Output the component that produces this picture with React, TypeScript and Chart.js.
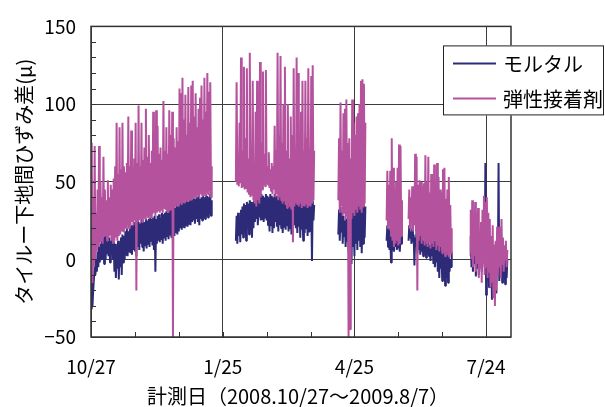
import React, { useEffect, useRef } from "react";
import { Chart, registerables } from "chart.js";

Chart.register(...registerables);

// ---- data ----
const seriesNames = ["モルタル", "弾性接着剤"];
const xTickDays = [0, 90, 180, 270];
const xTickLabels = ["10/27", "1/25", "4/25", "7/24"];
const yTickValues = [-50, 0, 50, 100, 150];
const yAxisTitle = "タイルー下地間ひずみ差(μ)";
const xAxisTitle = "計測日（2008.10/27～2009.8/7）";

// first day (days since 2008-10-27) of each measuring period
const segmentStartDays = [0, 99, 169, 202, 217, 259];

// daily lows / highs of each period
const mortarLow = [
  [-32, -30, -20, -10, -8, -5, -2, 0, 2, -3, 0, 4, 2, -2, 3, 0, -8, -12, -6, -13, -5, -10, -2, 0, 3, 2, 5, 4, 3, 6, 5, 2, 8, 6, 10, 8, 5, 9, 7, 10, 8, 12, 9, 6, -8, 10, 12, 11, 13, 10, 14, 12, 15, 13, 16, 14, 12, 15, 17, 16, 18, 20, 19, 21, 20, 22, 21, 23, 22, 24, 25, 23, 26, 24, 22, 26, 25, 27, 26, 28, 27, 29, 28],
  [12, 10, 15, 11, 16, 14, 18, 12, 20, 16, 22, 14, 20, 24, 26, 22, 27, 25, 26, 24, 27, 25, 22, 18, 22, 17, 20, 24, 21, 18, 22, 20, 17, 21, 19, 22, 18, 20, 16, 19, 22, 20, 17, 21, 14, 19, 12, 17, 20, 15, 18, 22, -1, 25],
  [16, 12, 18, 10, 15, 8, 12, 5, 10, -3, 8, 2, 10, 6, 12, 8, 4, 10, 14],
  [12, 8, 6, -2, 6, 5, 8, 6, 7, 5, 10],
  [12, 14, 10, 11, -4, 8, 4, 6, 3, 5, 2, 4, 1, 3, 2, -1, 2, -3, -5, -2, -8, -12, -6, -14, -10, -17, -12, -15, -8, -5],
  [2, -5, -8, -3, -11, -6, -10, -4, -8, 0, -5, -23, -10, -18, -12, -26, -20, -15, -22, -10, -14, -8, -15, -10, -16, -12],
];
const mortarHigh = [
  [-15, -20, -5, 0, 5, 8, 10, 12, 14, 15, 15, 16, 14, 12, 15, 12, 10, 8, 12, 10, 14, 16, 15, 18, 20, 18, 20, 22, 20, 24, 22, 25, 24, 23, 26, 25, 24, 26, 25, 26, 27, 26, 27, 28, 26, 28, 29, 27, 30, 29, 30, 31, 30, 32, 33, 32, 34, 33, 35, 34, 36, 37, 36, 38, 37, 38, 37, 39, 38, 40, 39, 38, 40, 41, 39, 40, 41, 40, 42, 41, 40, 42, 38],
  [28, 30, 27, 32, 34, 36, 35, 37, 36, 38, 37, 36, 38, 40, 39, 41, 40, 42, 41, 40, 42, 41, 40, 42, 41, 40, 42, 41, 39, 40, 42, 40, 41, 39, 40, 38, 40, 39, 41, 38, 40, 38, 39, 37, 38, 36, 38, 37, 36, 38, 37, 36, 38, 35],
  [32, 34, 30, 28, 25, 26, 30, 28, 32, 30, 33, 35, 34, 36, 35, 37, 36, 35, 34],
  [22, 20, 18, 16, 14, 15, 36, 16, 12, 14, 16],
  [22, 18, 20, 16, 14, 20, 18, 25, 16, 14, 12, 15, 10, 12, 9, 11, 8, 12, 10, 9, 12, 8, 6, 10, 5, 4, 8, 2, 0, 5],
  [15, 10, 8, 12, 22, 10, 5, 8, 20, 23, 62, 15, 10, 5, 8, 2, 6, 10, 10, 62, 8, 5, 10, 3, 6, 0],
];
const adhesiveLow = [
  [-10, -15, -5, 0, 5, 8, 10, 12, 10, 15, 15, 12, 14, 16, 12, 10, 12, 14, 12, 15, 16, 18, 18, 20, 20, 22, 20, 22, 24, 22, 25, -20, 24, 25, 26, 24, 27, 26, 28, 27, 28, 27, 29, 30, 28, 30, 31, 30, 32, 30, 33, 32, 31, 30, 32, 33, -50, 33, 34, 35, 34, 36, 35, 37, 36, 38, 37, 38, 39, 38, 40, 39, 40, 41, 40, 42, 41, 42, 41, 43, 42, 44, 40],
  [50, 48, 47, 49, 46, 47, 45, 46, 43, 42, 40, 41, 38, 36, 34, 38, 36, 40, 45, 48, 47, 49, 48, 46, 44, 42, 45, 40, 42, 38, 40, 38, 36, 38, 35, 33, 36, 34, 32, 11, 34, 36, 35, 34, 36, 33, 35, 34, 36, 33, 35, 34, 36, 38],
  [38, 30, 35, 28, 30, 26, 28, -50, -45, 26, 30, 28, 32, 30, 34, 32, 30, 34, 36],
  [25, 20, 22, 15, 12, 8, 10, 12, 9, 10, 15],
  [26, 20, 24, 18, 22, 18, -20, 12, 15, 10, 14, 9, 12, 8, 11, 7, 10, 8, 12, 6, 9, 5, 8, 4, 6, 2, 5, 3, 1, 4],
  [5, 0, -5, 2, -8, -3, -12, -6, -15, -2, -10, -5, -12, -8, -18, -15, -25, -30, -20, -10, -5, -12, -3, -8, 0, -5],
];
const adhesiveHigh = [
  [75, 40, 73, 30, 45, 73, 50, 40, 66, 45, 38, 51, 40, 48, 45, 52, 60, 88, 55, 85, 58, 88, 60, 56, 62, 92, 60, 83, 58, 65, 88, 62, 99, 60, 88, 64, 72, 97, 66, 80, 62, 70, 95, 65, 96, 86, 68, 72, 64, 102, 70, 85, 68, 96, 80, 95, 78, 72, 85, 76, 110, 107, 117, 90, 106, 80, 111, 88, 112, 115, 92, 107, 85, 97, 104, 112, 90, 117, 95, 120, 108, 114, 60],
  [114, 62, 88, 130, 70, 124, 78, 123, 65, 133, 72, 115, 60, 95, 115, 70, 127, 75, 121, 68, 122, 60, 69, 58, 62, 60, 86, 70, 133, 80, 131, 75, 100, 124, 70, 100, 65, 92, 80, 123, 72, 130, 120, 75, 95, 115, 70, 115, 78, 123, 72, 118, 125, 70],
  [78, 101, 70, 94, 97, 103, 75, 78, 65, 103, 88, 80, 92, 94, 100, 115, 116, 113, 88],
  [57, 48, 57, 78, 59, 45, 50, 59, 74, 73, 38],
  [45, 40, 47, 42, 68, 66, 48, 51, 50, 47, 49, 67, 50, 66, 43, 55, 45, 61, 48, 62, 53, 45, 43, 58, 59, 39, 45, 53, 35, 20],
  [32, 38, 20, 37, 30, 33, 18, 24, 32, 41, 37, 40, 30, 26, 15, 22, 9, 12, 21, 15, 21, 26, 14, 9, 12, 6],
];

const NAVY = "#2d2a78";
const PINK = "#b5529e";
const GRID = "#3c3c3c";
const FONT = "'Noto Sans CJK JP', 'Noto Sans', sans-serif";

function buildSeries(low: number[][], high: number[][]) {
  const pts: { x: number; y: number | null }[] = [];
  segmentStartDays.forEach((start, s) => {
    low[s].forEach((v, i) => {
      pts.push({ x: start + i, y: v });
      pts.push({ x: start + i + 0.5, y: high[s][i] });
    });
    pts.push({ x: start + low[s].length, y: null });
  });
  return pts;
}

const decor = {
  id: "decor",
  afterDraw(chart: any) {
    const { ctx, chartArea: a, scales } = chart;
    ctx.save();
    // minor ticks
    ctx.strokeStyle = "#333";
    ctx.lineWidth = 1;
    ctx.beginPath();
    for (let v = -50; v <= 150; v += 10) {
      const y = Math.round(scales.y.getPixelForValue(v)) + 0.5;
      ctx.moveTo(a.left, y);
      ctx.lineTo(a.left + 5, y);
    }
    for (let d = 30; d <= 270; d += 30) {
      const x = Math.round(scales.x.getPixelForValue(d)) + 0.5;
      ctx.moveTo(x, a.bottom);
      ctx.lineTo(x, a.bottom - 5);
    }
    ctx.stroke();
    // frame
    ctx.strokeStyle = "#333";
    ctx.lineWidth = 1.5;
    ctx.strokeRect(a.left, a.top, a.right - a.left, a.bottom - a.top);
    // legend
    const lx = a.right - 68;
    const ly = a.top + 19;
    ctx.fillStyle = "#fff";
    ctx.fillRect(lx, ly, 161, 70);
    ctx.strokeStyle = "#222";
    ctx.lineWidth = 1;
    ctx.strokeRect(lx + 0.5, ly + 0.5, 160, 69);
    const colors = [NAVY, PINK];
    ctx.font = `20px ${FONT}`;
    ctx.textBaseline = "middle";
    ctx.textAlign = "left";
    seriesNames.forEach((name, i) => {
      const yy = ly + 18 + i * 35;
      ctx.strokeStyle = colors[i];
      ctx.lineWidth = 2;
      ctx.beginPath();
      ctx.moveTo(lx + 10, yy);
      ctx.lineTo(lx + 53, yy);
      ctx.stroke();
      ctx.fillStyle = "#000";
      ctx.fillText(name, lx + 60, yy + 1);
    });
    // axis titles
    ctx.fillStyle = "#000";
    ctx.font = `20px ${FONT}`;
    ctx.textAlign = "center";
    ctx.textBaseline = "middle";
    ctx.fillText(xAxisTitle, (a.left + a.right) / 2 - 3, 396);
    ctx.translate(24, (a.top + a.bottom) / 2);
    ctx.rotate(-Math.PI / 2);
    ctx.fillText(yAxisTitle, 0, 0);
    ctx.restore();
  },
};

export default function App() {
  const ref = useRef<HTMLCanvasElement>(null);
  useEffect(() => {
    document.body.style.margin = "0";
    const common = {
      pointRadius: 0,
      borderWidth: 2,
      tension: 0,
      spanGaps: false,
      borderJoinStyle: "bevel" as const,
      fill: false,
    };
    const chart = new Chart(ref.current!, {
      type: "line",
      data: {
        datasets: [
          { label: seriesNames[0], data: buildSeries(mortarLow, mortarHigh) as any, borderColor: NAVY, backgroundColor: NAVY, order: 1, ...common },
          { label: seriesNames[1], data: buildSeries(adhesiveLow, adhesiveHigh) as any, borderColor: PINK, backgroundColor: PINK, order: 0, ...common },
        ],
      },
      options: {
        animation: false,
        responsive: false,
        devicePixelRatio: 1,
        layout: { padding: { top: 16, right: 94, bottom: 0, left: 0 } },
        plugins: { legend: { display: false }, tooltip: { enabled: false } },
        scales: {
          x: {
            type: "linear",
            min: 0,
            max: 287,
            afterBuildTicks: (s: any) => {
              s.ticks = xTickDays.map((v) => ({ value: v }));
            },
            afterFit: (s: any) => {
              s.height = 70;
            },
            grid: { color: GRID, lineWidth: 1, drawTicks: false },
            border: { display: false },
            ticks: {
              padding: 18,
              color: "#000",
              font: { family: FONT, size: 19 },
              maxRotation: 0,
              autoSkip: false,
              callback: (v: any) => {
                const i = xTickDays.indexOf(Number(v));
                return i >= 0 ? xTickLabels[i] : "";
              },
            },
          },
          y: {
            min: -50,
            max: 150,
            afterBuildTicks: (s: any) => {
              s.ticks = yTickValues.map((v) => ({ value: v }));
            },
            afterFit: (s: any) => {
              s.width = 91;
            },
            grid: { color: GRID, lineWidth: 1, drawTicks: false },
            border: { display: false },
            ticks: {
              padding: 15,
              color: "#000",
              font: { family: FONT, size: 19 },
              callback: (v: any) => String(v).replace("-", "−"),
            },
          },
        },
      },
      plugins: [decor],
    });
    return () => chart.destroy();
  }, []);
  return (
    <div style={{ width: 605, height: 407 }}>
      <canvas ref={ref} width={605} height={407} style={{ display: "block" }} />
    </div>
  );
}
